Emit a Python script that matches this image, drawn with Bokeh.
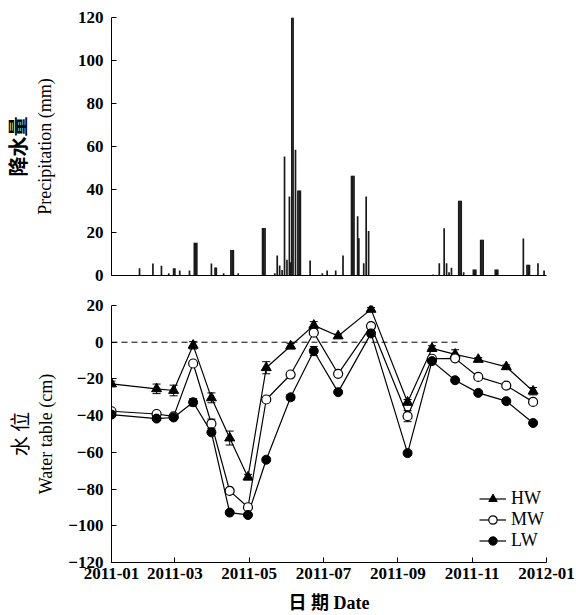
import pandas as pd
from bokeh.plotting import figure
from bokeh.layouts import column
from bokeh.models import (ColumnDataSource, Range1d, FixedTicker, CustomJSTickFormatter,
                          Title, Whisker, TeeHead, Legend, LegendItem)
from bokeh.embed import file_html
from bokeh.resources import INLINE

# ---------------- data ----------------
precip_dates = [
    "2011-02-02", "2011-02-13", "2011-02-20", "2011-02-26", "2011-03-02", "2011-03-03",
    "2011-03-07", "2011-03-15", "2011-03-19", "2011-03-20", "2011-03-21", "2011-04-02",
    "2011-04-05", "2011-04-06", "2011-04-12", "2011-04-18", "2011-04-19", "2011-04-20",
    "2011-04-24", "2011-05-14", "2011-05-15", "2011-05-16", "2011-05-24", "2011-05-26",
    "2011-05-28", "2011-05-30", "2011-06-01", "2011-06-03", "2011-06-05", "2011-06-06",
    "2011-06-07", "2011-06-08", "2011-06-10", "2011-06-12", "2011-06-13", "2011-06-14",
    "2011-06-22", "2011-07-02", "2011-07-06", "2011-07-13", "2011-07-19", "2011-07-26",
    "2011-07-27", "2011-07-28", "2011-07-31", "2011-08-01", "2011-08-05", "2011-08-07",
    "2011-08-09", "2011-10-01", "2011-10-06", "2011-10-10", "2011-10-12", "2011-10-14",
    "2011-10-16", "2011-10-22", "2011-10-23", "2011-10-24", "2011-10-26", "2011-11-03",
    "2011-11-04", "2011-11-05", "2011-11-09", "2011-11-10", "2011-11-11", "2011-11-21",
    "2011-11-22", "2011-11-23", "2011-12-14", "2011-12-17", "2011-12-18", "2011-12-19",
    "2011-12-26", "2011-12-31",
]
precip_mm = [
    3.4, 5.6, 4.5, 1.0, 3.4, 3.4,
    2.3, 2.3, 15.2, 15.2, 15.2, 5.6,
    3.7, 3.7, 1.0, 11.9, 11.9, 11.9,
    1.0, 22.1, 22.1, 22.1, 1.0, 9.3,
    4.6, 2.6, 55.4, 7.3, 36.7, 6.2,
    120.0, 120.0, 58.5, 39.5, 39.5, 39.5,
    7.0, 1.0, 2.3, 2.3, 9.3, 46.4,
    46.4, 46.4, 27.6, 17.3, 5.7, 36.7,
    20.7, 0.5, 5.7, 22.0, 5.7, 1.5,
    3.6, 34.8, 34.8, 34.8, 1.5, 2.8,
    2.8, 2.8, 16.6, 16.6, 16.6, 2.8,
    2.8, 2.8, 17.2, 5.0, 5.0, 5.0,
    5.7, 2.3,
]

obs_dates = ["2011-01-10", "2011-02-16", "2011-03-02", "2011-03-18", "2011-04-02", "2011-04-17",
             "2011-05-02", "2011-05-17", "2011-06-06", "2011-06-25", "2011-07-15", "2011-08-11",
             "2011-09-10", "2011-09-30", "2011-10-19", "2011-11-07", "2011-11-30", "2011-12-22"]
hw = [-22.7, -25.4, -26.3, -1.7, -30.3, -52.2, -73.5, -13.9, -2.1, 9.2, 3.4, 17.9,
      -32.7, -3.4, -6.6, -9.4, -13.4, -26.7]
mw = [-37.6, -39.1, -40.4, -11.6, -44.4, -81.0, -89.9, -31.2, -17.6, 5.2, -17.2, 8.8,
      -40.3, -9.0, -8.8, -18.9, -23.6, -32.5]
lw = [-39.4, -41.6, -41.0, -32.7, -49.1, -92.8, -94.1, -64.0, -30.0, -4.8, -27.2, 4.8,
      -60.4, -10.3, -20.7, -27.6, -32.1, -44.0]
hw_err = [1.5, 2.6, 2.9, 2.0, 2.7, 3.8, 1.5, 3.3, 1.5, 2.0, 1.0, 1.0, 1.5, 1.5, 2.5, 1.0, 1.0, 2.0]
mw_err = [1.0, 1.0, 1.0, 1.0, 2.5, 1.0, 1.0, 1.0, 1.0, 1.0, 1.0, 1.0, 3.0, 1.0, 1.0, 1.0, 1.0, 1.0]
lw_err = [1.0, 1.0, 1.0, 2.0, 1.0, 1.0, 1.0, 1.0, 1.5, 2.5, 1.0, 1.5, 1.0, 1.0, 1.0, 1.0, 1.0, 1.0]

zero_line_dates = ["2011-01-10", "2011-10-22"]
zero_line_values = [0, 0]

series_names = ["HW", "MW", "LW"]
x_tick_dates = ["2011-01-10", "2011-03-03", "2011-05-03", "2011-07-03",
                "2011-09-02", "2011-11-02", "2012-01-02"]
precip_ticks = [0, 20, 40, 60, 80, 100, 120]
wt_ticks = [-120, -100, -80, -60, -40, -20, 0, 20]

# ---------------- helpers ----------------
DAY = 86400000
def ms(s):
    return pd.Timestamp(s).value // 10**6

x_start, x_end = ms("2011-01-10"), ms("2012-01-02")
x_ticks = [ms(d) for d in x_tick_dates]

date_fmt = CustomJSTickFormatter(code="""
const d = new Date(tick);
const m = d.getUTCMonth() + 1;
return d.getUTCFullYear() + "-" + (m < 10 ? "0" : "") + m;
""")
num_fmt = CustomJSTickFormatter(code="return tick < 0 ? '\u2212' + Math.abs(tick) : String(tick);")

SERIF = "Liberation Serif"
CJK = "Noto Sans CJK SC"


def style_common(p):
    p.outline_line_color = None
    p.xgrid.visible = False
    p.ygrid.visible = False
    p.background_fill_color = "white"
    p.border_fill_color = "white"
    for ax in (p.xaxis[0], p.yaxis[0]):
        ax.axis_line_color = "black"
        ax.axis_line_width = 1
        ax.major_tick_line_color = "black"
        ax.major_tick_in = 5
        ax.major_tick_out = 0
        ax.minor_tick_line_color = None
        ax.major_label_text_font = SERIF
        ax.major_label_text_font_size = "17px"
        ax.major_label_text_font_style = "bold"
        ax.major_label_text_color = "black"
        ax.axis_label_text_color = "black"


# ---------------- top: precipitation ----------------
p1 = figure(width=576, height=290, x_range=Range1d(x_start, x_end), y_range=Range1d(0, 120),
            output_backend="svg", toolbar_location=None,
            min_border_left=105, min_border_right=30, min_border_top=17, min_border_bottom=15)
style_common(p1)
psrc = ColumnDataSource(dict(x=[ms(d) for d in precip_dates], top=precip_mm))
p1.vbar(x="x", top="top", width=1.4 * DAY, source=psrc, fill_color="#1a1a1a", line_color=None)
p1.xaxis.ticker = FixedTicker(ticks=[])
p1.xaxis.major_label_text_font_size = "0px"
p1.xaxis.major_label_standoff = 0
p1.yaxis.ticker = FixedTicker(ticks=precip_ticks)
p1.yaxis.formatter = num_fmt
p1.yaxis.major_label_standoff = 8
p1.yaxis.axis_label = "Precipitation (mm)"
p1.yaxis.axis_label_text_font = SERIF
p1.yaxis.axis_label_text_font_size = "18px"
p1.yaxis.axis_label_text_font_style = "normal"
p1.yaxis.axis_label_standoff = 20
p1.add_layout(Title(text="降水量", align="center", text_font=CJK, text_font_size="20px",
                    text_font_style="bold", text_color="black", standoff=0), "left")

# ---------------- bottom: water table ----------------
p2 = figure(width=576, height=325, x_range=Range1d(x_start, x_end), y_range=Range1d(-120, 20),
            output_backend="svg", toolbar_location=None,
            min_border_left=105, min_border_right=30, min_border_top=15, min_border_bottom=53)
style_common(p2)
p2.xaxis.ticker = FixedTicker(ticks=x_ticks)
p2.xaxis.formatter = date_fmt
p2.xaxis.major_label_standoff = 5
p2.xaxis.axis_label = "日 期 Date"
p2.xaxis.axis_label_text_font = SERIF + ", " + CJK
p2.xaxis.axis_label_text_font_size = "18px"
p2.xaxis.axis_label_text_font_style = "bold"
p2.xaxis.axis_label_standoff = 11
p2.yaxis.ticker = FixedTicker(ticks=wt_ticks)
p2.yaxis.formatter = num_fmt
p2.yaxis.major_label_standoff = 8
p2.yaxis.axis_label = "Water table (cm)"
p2.yaxis.axis_label_text_font = SERIF
p2.yaxis.axis_label_text_font_size = "18px"
p2.yaxis.axis_label_text_font_style = "normal"
p2.yaxis.axis_label_standoff = 9
p2.add_layout(Title(text="水 位", align="center", text_font=CJK, text_font_size="20px",
                    text_font_style="normal", text_color="black", standoff=0), "left")

p2.line([ms(d) for d in zero_line_dates], zero_line_values, line_color="black",
        line_width=1, line_dash="6 4")

obs_x = [ms(d) for d in obs_dates]
wsrc = ColumnDataSource(dict(
    x=obs_x, hw=hw, mw=mw, lw=lw,
    hw_up=[v + e for v, e in zip(hw, hw_err)], hw_lo=[v - e for v, e in zip(hw, hw_err)],
    mw_up=[v + e for v, e in zip(mw, mw_err)], mw_lo=[v - e for v, e in zip(mw, mw_err)],
    lw_up=[v + e for v, e in zip(lw, lw_err)], lw_lo=[v - e for v, e in zip(lw, lw_err)],
))

for key in ("hw", "mw", "lw"):
    wk = Whisker(base="x", upper=key + "_up", lower=key + "_lo", source=wsrc,
                 line_color="black", line_width=1, level="underlay",
                 upper_head=TeeHead(size=8, line_color="black", line_width=1),
                 lower_head=TeeHead(size=8, line_color="black", line_width=1))
    p2.add_layout(wk)

l_hw = p2.line("x", "hw", source=wsrc, line_color="black", line_width=1.2)
l_mw = p2.line("x", "mw", source=wsrc, line_color="black", line_width=1.2)
l_lw = p2.line("x", "lw", source=wsrc, line_color="black", line_width=1.2)
s_hw = p2.scatter("x", "hw", source=wsrc, marker="triangle", size=10,
                  fill_color="black", line_color="black")
s_mw = p2.scatter("x", "mw", source=wsrc, marker="circle", size=9,
                  fill_color="white", line_color="black", line_width=1.2)
s_lw = p2.scatter("x", "lw", source=wsrc, marker="circle", size=9,
                  fill_color="black", line_color="black")

legend = Legend(items=[LegendItem(label=series_names[0], renderers=[l_hw, s_hw]),
                       LegendItem(label=series_names[1], renderers=[l_mw, s_mw]),
                       LegendItem(label=series_names[2], renderers=[l_lw, s_lw])],
                location=(368, 11), orientation="vertical",
                glyph_width=27, glyph_height=21, label_height=21, label_standoff=5,
                spacing=0, padding=0, margin=0,
                border_line_color=None, background_fill_alpha=0,
                label_text_font=SERIF, label_text_font_size="18px", label_text_color="black")
p2.add_layout(legend)

layout = column(p1, p2, spacing=0)
open("out.html", "w").write(file_html(layout, INLINE))
